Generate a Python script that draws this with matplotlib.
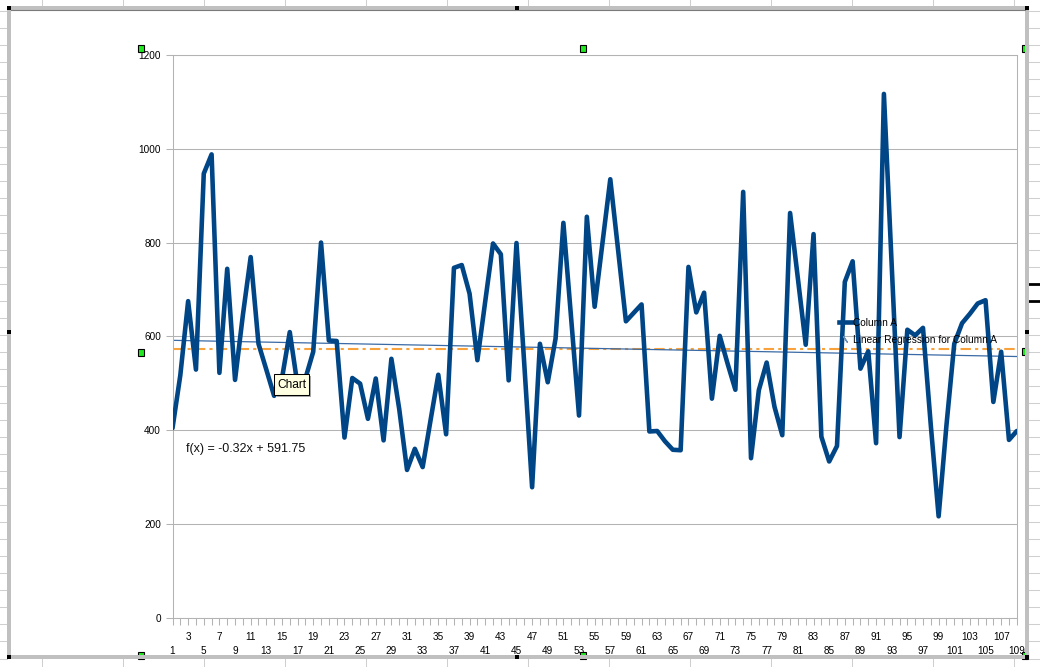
import numpy as np
import matplotlib
matplotlib.use('Agg')
import matplotlib.pyplot as plt
from matplotlib.lines import Line2D
from matplotlib.patches import Rectangle

# ---------------- data ----------------
x_positions = list(range(1, 110))
values = [
    404, 517, 675, 529, 947, 988, 522, 744, 507, 645,
    769, 584, 529, 473, 510, 609, 495, 510, 567, 800,
    591, 590, 384, 511, 499, 424, 510, 378, 552, 445,
    315, 360, 321, 420, 518, 391, 746, 752, 691, 549,
    674, 798, 775, 506, 799, 540, 278, 584, 502, 595,
    842, 637, 431, 855, 663, 799, 935, 784, 632, 650,
    668, 397, 398, 376, 358, 357, 748, 651, 693, 467,
    601, 542, 486, 908, 340, 485, 544, 450, 389, 863,
    723, 582, 818, 386, 333, 366, 716, 760, 531, 568,
    372, 1117, 751, 385, 614, 602, 618, 410, 216, 410,
    584, 628, 648, 670, 677, 460, 567, 379, 398,
]
y_ticks = [0, 200, 400, 600, 800, 1000, 1200]
reg_slope = -0.32
reg_intercept = 591.75
series_name = "Column A"
reg_name = "Linear Regression for Column A"
tooltip_text = "Chart"

# ---------------- figure ----------------
plt.rcParams['font.family'] = ['Liberation Sans', 'DejaVu Sans']
W, H = 1040, 667
fig = plt.figure(figsize=(10.4, 6.67), dpi=100)
fig.patch.set_facecolor('white')


def fx(x):
    return x / W


def fy(y):
    return 1 - y / H


def px_rect(x0, y0, x1, y1, **kw):
    r = Rectangle((fx(x0), fy(y1)), (x1 - x0) / W, (y1 - y0) / H,
                  transform=fig.transFigure, **kw)
    fig.add_artist(r)
    return r


def px_line(xs, ys, **kw):
    ln = Line2D([fx(v) for v in xs], [fy(v) for v in ys],
                transform=fig.transFigure, **kw)
    fig.add_artist(ln)
    return ln


# spreadsheet grid outside the chart frame
grid_c = '#cfcfcf'
k = 0
while True:
    yy = 11 + 17.04 * k
    if yy > H:
        break
    px_line([0, 7], [yy, yy], color=grid_c, lw=0.75, zorder=1)
    px_line([1029, 1040], [yy, yy], color=grid_c, lw=0.75, zorder=1)
    k += 1
for k in range(13):
    xx = 41.7 + 81 * k
    px_line([xx, xx], [0, 6], color=grid_c, lw=0.75, zorder=1)
    px_line([xx, xx], [659, 667], color=grid_c, lw=0.75, zorder=1)
px_line([1029, 1040], [284, 284], color='black', lw=2.0, zorder=2)
px_line([1029, 1040], [301, 301], color='black', lw=2.0, zorder=2)

# ---------------- axes ----------------
ax = fig.add_axes([fx(172.5), fy(617.6), (1016.8 - 172.5) / W, (617.6 - 55) / H])
ax.set_facecolor('none')
ax.set_xlim(1, 109)
ax.set_ylim(0, 1200)
ax.grid(axis='y', color='#b3b3b3', lw=0.75)
ax.set_axisbelow(True)
for s in ax.spines.values():
    s.set_color('#b3b3b3')
    s.set_linewidth(0.75)

upper = [n for n in x_positions if n % 4 == 3]
others = [n for n in x_positions if n % 4 != 3]
ax.set_xticks(upper, labels=[str(n) for n in upper])
ax.set_xticks(others, labels=[str(n) if n % 4 == 1 else '' for n in others], minor=True)
ax.tick_params(axis='x', which='both', length=5, width=0.75, color='#b3b3b3',
               labelsize=7.2, direction='out', labelcolor='black')
ax.tick_params(axis='x', which='major', pad=5.4)
ax.tick_params(axis='x', which='minor', pad=15.5)
ax.set_yticks(y_ticks, labels=[str(v) for v in y_ticks])
ax.tick_params(axis='y', length=5, width=0.75, color='#b3b3b3', labelsize=7.2,
               pad=3.2, labelcolor='black')

# mean value line and regression
mean_val = float(np.mean(values))
ax.axhline(mean_val, color='#f9a13a', lw=1.5, ls=(0, (5, 2, 1.5, 2)), zorder=2)
xr = np.array([x_positions[0], x_positions[-1]], dtype=float)
ax.plot(xr, reg_slope * xr + reg_intercept, color='#3a6aa5', lw=0.9, zorder=2)

# main series
ax.plot(x_positions, values, color='#004586', lw=3.3,
        solid_joinstyle='round', solid_capstyle='round', zorder=3)

# legend
handles = [
    Line2D([], [], color='#004586', lw=3.3),
    Line2D([], [], ls='none', marker=(2, 2, 34), markersize=5.2,
           markeredgecolor='#6a8db5', markeredgewidth=0.9),
]
leg = fig.legend(handles, [series_name, reg_name], loc='upper left',
                 bbox_to_anchor=(fx(839), fy(318)), frameon=False, fontsize=7.3,
                 handlelength=1.28, handletextpad=0.07, labelspacing=0.68,
                 borderpad=0, borderaxespad=0)
leg.set_zorder(5)

# regression equation
fig.text(fx(186), fy(449), f"f(x) = {reg_slope:.2f}x + {reg_intercept:.2f}",
         fontsize=9, va='center', ha='left', color='#111111', zorder=6)

# tooltip
px_rect(276.5, 376.5, 311, 397.5, facecolor='#a8a8a8', edgecolor='none', zorder=10)
px_rect(274.3, 374.3, 309, 395, facecolor='#ffffe1', edgecolor='black', lw=0.75, zorder=11)
fig.text(fx(291.7), fy(385.3), tooltip_text, fontsize=8.6, ha='center', va='center',
         color='black', zorder=12)

# green selection handles
for (gx, gy) in [(138, 45), (580, 45), (1021.5, 45), (138, 349), (1021.5, 348),
                 (138, 652), (580, 652), (1021.5, 652)]:
    px_rect(gx, gy, gx + 6, gy + 7, facecolor='#22e822', edgecolor='black', lw=0.8, zorder=13)

# gray edit frame
fc = '#c0c0c0'
px_rect(7, 6, 1029, 10, facecolor=fc, edgecolor='none', zorder=14)
px_rect(7, 655, 1029, 659, facecolor=fc, edgecolor='none', zorder=14)
px_rect(7, 6, 11, 659, facecolor=fc, edgecolor='none', zorder=14)
px_rect(1025, 6, 1029, 659, facecolor=fc, edgecolor='none', zorder=14)
px_line([11, 1025], [9.8, 9.8], color='#7a7a7a', lw=0.8, zorder=15)

# black frame handles
for (bx, by) in [(7, 6), (515, 6), (1025, 6), (7, 330), (1025, 330),
                 (7, 655), (515, 655), (1025, 655)]:
    px_rect(bx, by, bx + 4, by + 4, facecolor='black', edgecolor='none', zorder=16)

fig.savefig('out.png', dpi=100)
